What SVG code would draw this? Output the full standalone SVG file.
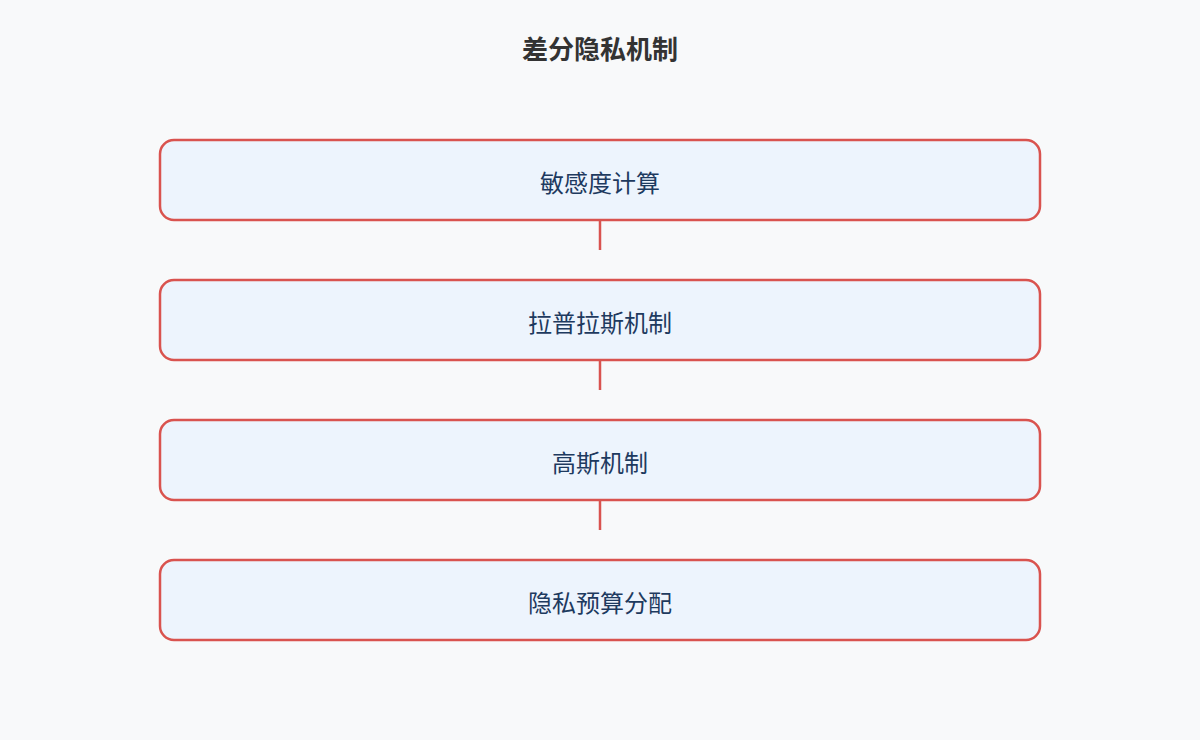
<svg xmlns="http://www.w3.org/2000/svg" width="1200" height="740" viewBox="0 0 1200 740">
<style>
.box{fill:#edf4fd;stroke:#d9534f;stroke-width:2.5}
.lbl{font-family:"Liberation Sans","Noto Sans CJK SC",sans-serif;font-size:24px;fill:#1e3a5f;text-anchor:middle;dominant-baseline:central}
.ttl{font-family:"Liberation Sans","Noto Sans CJK SC",sans-serif;font-size:26px;font-weight:bold;fill:#333;text-anchor:middle;dominant-baseline:central}
.con{stroke:#d9534f;stroke-width:2.5;fill:none}
</style>
<rect width="1200" height="740" fill="#f8f9fa"/>
<text class="ttl" x="600" y="50">差分隐私机制</text>
<g id="connectors">
<line class="con" x1="600" y1="220" x2="600" y2="250"/>
<line class="con" x1="600" y1="360" x2="600" y2="390"/>
<line class="con" x1="600" y1="500" x2="600" y2="530"/>
</g>
<g id="n1"><rect class="box" x="160" y="140" width="880" height="80" rx="14"/><text class="lbl" x="600" y="183">敏感度计算</text></g>
<g id="n2"><rect class="box" x="160" y="280" width="880" height="80" rx="14"/><text class="lbl" x="600" y="323">拉普拉斯机制</text></g>
<g id="n3"><rect class="box" x="160" y="420" width="880" height="80" rx="14"/><text class="lbl" x="600" y="463">高斯机制</text></g>
<g id="n4"><rect class="box" x="160" y="560" width="880" height="80" rx="14"/><text class="lbl" x="600" y="603">隐私预算分配</text></g>
</svg>
